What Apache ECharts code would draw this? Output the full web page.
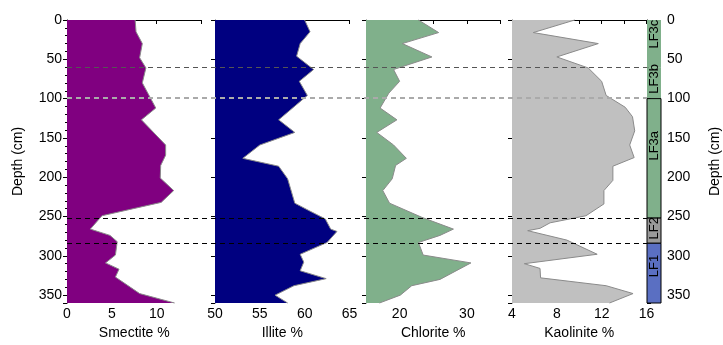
<!DOCTYPE html>
<html>
<head>
<meta charset="utf-8">
<script src="https://cdn.jsdelivr.net/npm/echarts@6/dist/echarts.min.js"></script>
<style>
  html, body { margin: 0; padding: 0; background: #fff; }
  #chart { width: 723px; height: 345px; }
</style>
</head>
<body>
<div id="chart"></div>
<script>
// depth (cm) / value pairs
var smectiteDepth = [0, 15, 30, 48, 61, 80, 97, 112, 127, 159, 172, 185, 201, 217, 232, 249, 266, 274, 282, 299, 309, 317, 327, 348, 360];
var smectiteVal   = [7.6, 7.7, 8.4, 8.1, 8.8, 8.4, 9.2, 9.9, 8.3, 11.0, 11.0, 10.45, 10.4, 11.9, 10.5, 3.9, 2.6, 4.8, 5.6, 5.4, 4.3, 5.8, 5.4, 8.1, 12.0];

var illiteDepth = [0, 15, 30, 46, 63, 78, 96, 127, 143, 159, 176, 186, 202, 233, 242, 253, 266, 269, 283, 298, 308, 319, 329, 338, 350, 360];
var illiteVal   = [60.0, 60.6, 59.5, 59.1, 61.0, 59.4, 60.3, 57.1, 58.9, 55.0, 53.1, 57.1, 58.1, 58.9, 60.4, 62.3, 62.9, 63.6, 62.5, 59.5, 59.9, 59.5, 62.4, 58.8, 56.7, 58.1];

var chloriteDepth = [0, 16, 30, 47, 63, 78, 93, 112, 127, 143, 159, 176, 185, 202, 217, 233, 251, 266, 274, 283, 299, 309, 330, 338, 350, 360];
var chloriteVal   = [22.8, 25.8, 20.4, 24.8, 19.1, 20.0, 18.4, 17.1, 19.6, 16.6, 19.1, 21.0, 19.4, 18.9, 17.5, 18.5, 23.3, 28.0, 26.0, 22.8, 23.5, 30.6, 26.0, 21.8, 20.1, 17.0];

var kaoliniteDepth = [0, 16, 30, 47, 61, 78, 96, 111, 123, 141, 159, 175, 186, 204, 217, 234, 249, 258, 265, 268, 280, 298, 310, 316, 328, 338, 348, 360];
var kaoliniteVal   = [9.6, 5.9, 11.7, 8.0, 10.8, 12.0, 12.4, 14.1, 14.75, 14.95, 14.5, 14.9, 13.0, 13.0, 12.2, 12.2, 10.6, 7.4, 6.5, 5.4, 8.9, 11.6, 5.1, 6.5, 6.55, 12.4, 14.8, 12.7];

// lithofacies column
var zoneNames  = ['LF3c', 'LF3b', 'LF3a', 'LF2', 'LF1'];
var zoneTop    = [0, 60, 100, 252, 284];
var zoneBottom = [60, 100, 252, 284, 360];
var zoneLabelDepth = [18, 75, 160, 265, 313];

// boundary lines
var boundaryDepth = [60, 99, 252, 284];

var FONT = 'Liberation Sans, Arial, sans-serif';
var zoneColor = { LF3c: '#80b08b', LF3b: '#80b08b', LF3a: '#80b08b', LF2: '#999999', LF1: '#5a6fc2' };
var boundaryStyle = [
  { color: '#555', width: 1 },
  { color: '#aaa', width: 2 },
  { color: '#000', width: 1 },
  { color: '#000', width: 1 }
];

var panels = [
  { name: 'Smectite %', min: 0, max: 15, interval: 5, depth: smectiteDepth, val: smectiteVal, color: '#800080', left: 67, show: function (v) { return v < 15; } },
  { name: 'Illite %', min: 50, max: 65, interval: 5, depth: illiteDepth, val: illiteVal, color: '#000080', left: 215, show: function (v) { return true; } },
  { name: 'Chlorite %', min: 15, max: 35, interval: 5, depth: chloriteDepth, val: chloriteVal, color: '#80b08b', left: 366, show: function (v) { return v === 20 || v === 30; } },
  { name: 'Kaolinite %', min: 4, max: 16, interval: 2, depth: kaoliniteDepth, val: kaoliniteVal, color: '#c0c0c0', left: 512, show: function (v) { return v % 4 === 0; } }
];

var TOP = 20, H = 283, W = 134.5;
var grids = [], xAxes = [], yAxes = [], series = [];

panels.forEach(function (p, i) {
  grids.push({ left: p.left, top: TOP, width: W, height: H });
  xAxes.push({
    gridIndex: i, type: 'value', min: p.min, max: p.max, interval: p.interval,
    name: p.name, nameLocation: 'middle', nameGap: 23,
    nameTextStyle: { color: '#000', fontSize: 14, fontFamily: FONT },
    axisLine: { show: true, lineStyle: { color: '#000', width: 1 } },
    axisTick: { show: true, length: 4, lineStyle: { color: '#000' } },
    axisLabel: { color: '#000', fontSize: 14, fontFamily: FONT, margin: 4,
      formatter: function (v) { return p.show(v) ? String(v) : ''; } },
    splitLine: { show: false }
  });
  yAxes.push({
    gridIndex: i, type: 'value', inverse: true, min: 0, max: 360, interval: 50,
    name: i === 0 ? 'Depth (cm)' : '', nameLocation: 'middle', nameGap: 42,
    nameTextStyle: { color: '#000', fontSize: 14, fontFamily: FONT },
    axisLine: { show: true, lineStyle: { color: i === 0 ? '#000' : '#555', width: 1 } },
    axisTick: { show: true, length: 4, lineStyle: { color: '#000' } },
    minorTick: { show: i === 0, splitNumber: 5, length: 2, lineStyle: { color: '#000' } },
    axisLabel: { show: i === 0, color: '#000', fontSize: 14, fontFamily: FONT, margin: 5,
      formatter: function (v) { return v > 350 ? '' : String(v); } },
    splitLine: { show: false }
  });
  series.push({
    type: 'custom', xAxisIndex: i, yAxisIndex: i, z: 2, silent: true,
    data: p.val.map(function (v, k) { return [v, p.depth[k]]; }),
    renderItem: function (params, api) {
      if (params.dataIndex !== 0) return null;
      var pts = p.val.map(function (v, k) { return api.coord([v, p.depth[k]]); });
      var poly = [api.coord([p.min, p.depth[0]])].concat(pts, [api.coord([p.min, p.depth[p.depth.length - 1]])]);
      return {
        type: 'group',
        children: [
          { type: 'polygon', shape: { points: poly }, style: { fill: p.color } },
          { type: 'polyline', shape: { points: pts }, style: { stroke: '#8a8a8a', lineWidth: 1, fill: null } }
        ]
      };
    }
  });
});

// lithofacies strip
grids.push({ left: 647, top: TOP, width: 23, height: H });
xAxes.push({ gridIndex: 4, type: 'value', min: 0, max: 1, show: false });
yAxes.push({
  gridIndex: 4, type: 'value', position: 'right', inverse: true, min: 0, max: 360, interval: 50,
  name: 'Depth (cm)', nameLocation: 'middle', nameGap: 47, nameRotate: 90,
  nameTextStyle: { color: '#000', fontSize: 14, fontFamily: FONT },
  axisLine: { show: true, lineStyle: { color: '#000', width: 1 } },
  axisTick: { show: true, length: 4, lineStyle: { color: '#000' } },
  minorTick: { show: true, splitNumber: 5, length: 2, lineStyle: { color: '#000' } },
  axisLabel: { color: '#000', fontSize: 14, fontFamily: FONT, margin: 6,
    formatter: function (v) { return v > 350 ? '' : String(v); } },
  splitLine: { show: false }
});
series.push({
  type: 'custom', xAxisIndex: 4, yAxisIndex: 4, z: 2, silent: true,
  data: zoneNames.map(function (n, k) { return [zoneTop[k], zoneBottom[k], zoneLabelDepth[k]]; }),
  renderItem: function (params, api) {
    var k = params.dataIndex;
    var a = api.coord([0, api.value(0)]);
    var b = api.coord([1, api.value(1)]);
    var c = api.coord([0.5, api.value(2)]);
    return {
      type: 'group',
      children: [
        { type: 'rect', shape: { x: a[0], y: a[1], width: b[0] - a[0], height: b[1] - a[1] },
          style: { fill: zoneColor[zoneNames[k]], stroke: k < 2 ? null : '#000', lineWidth: 1 } },
        { type: 'text', x: c[0], y: c[1], rotation: Math.PI / 2, z2: 10,
          style: { text: zoneNames[k], fill: '#000', font: '13px ' + FONT, align: 'center', verticalAlign: 'middle' } }
      ]
    };
  }
});

// overlay for dashed boundary lines
grids.push({ left: 67, top: TOP, width: 580, height: H });
xAxes.push({ gridIndex: 5, type: 'value', min: 0, max: 1, show: false });
yAxes.push({ gridIndex: 5, type: 'value', inverse: true, min: 0, max: 360, show: false });
series.push({
  type: 'line', xAxisIndex: 5, yAxisIndex: 5, z: 10, silent: true, data: [],
  markLine: {
    silent: true, symbol: ['none', 'none'], label: { show: false },
    data: boundaryDepth.map(function (d, k) {
      return { yAxis: d, lineStyle: { color: boundaryStyle[k].color, width: boundaryStyle[k].width, type: [5, 4] } };
    })
  }
});

var chart = echarts.init(document.getElementById('chart'));
chart.setOption({
  animation: false,
  grid: grids,
  xAxis: xAxes,
  yAxis: yAxes,
  series: series
});
</script>
</body>
</html>
